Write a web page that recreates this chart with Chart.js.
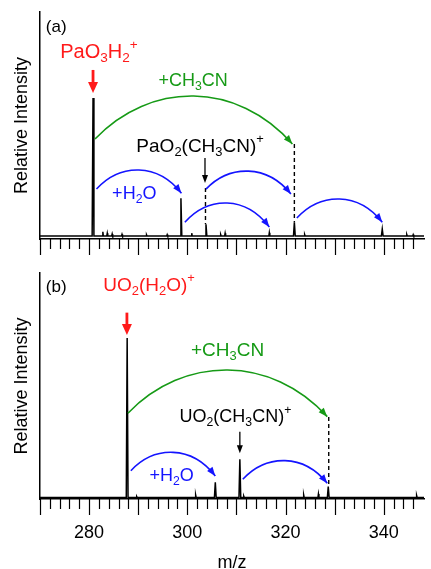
<!DOCTYPE html>
<html>
<head>
<meta charset="utf-8">
<script src="https://cdn.jsdelivr.net/npm/chart.js@4.4.0/dist/chart.umd.min.js"></script>
<style>
  html, body { margin: 0; padding: 0; background: #fff; }
  #wrapA { position: absolute; left: 0; top: 0; width: 431px; height: 262px; }
  #wrapB { position: absolute; left: 0; top: 262px; width: 431px; height: 307px; }
</style>
</head>
<body>
<div id="wrapA"><canvas id="chartA"></canvas></div>
<div id="wrapB"><canvas id="chartB"></canvas></div>
<script>
const FONT = '"Liberation Sans", Arial, Helvetica, sans-serif';

// panel (a): peak m/z and relative intensity (main peak = 100)
const mzA  = [280.8, 282.8, 283.7, 284.7, 286.7, 291.7, 295.9, 298.7, 300.9, 303.8, 306.8, 307.7, 316.7, 321.8, 323.9, 339.7, 344.7, 346.0];
const intA = [100,   3,     2,     1.5,   1.2,   0.8,   1,     27.3,  2,     8.5,   1,     2,     2.4,   9.9,   1,     5.1,   1,     1];

// panel (b)
const mzB  = [287.75, 289.7, 301.7, 305.7, 310.7, 311.5, 323.7, 326.7, 328.7, 346.7];
const intB = [100,    0.6,   1.5,   9.5,   24,    0.8,   1.5,   2.2,   6.8,   1.2];

const xLabelTicks = [280, 300, 320, 340];
const xMin = 270, xMax = 348.2;

const BLUE = '#1414ff', GREEN = '#169a16', RED = '#ff1a1a', BLACK = '#000';

// annotation layout, in data units of each panel
const notesA = {
  texts: [
    {s: '(a)', x: 273.3, y: 148, size: 17, color: BLACK},
    {s: 'PaO_3H_2^+', x: 282, y: 129, size: 20, color: RED},
    {s: '+CH_3CN', x: 301.2, y: 108.7, size: 18, color: GREEN},
    {s: 'PaO_2(CH_3CN)^+', x: 302.6, y: 61, size: 19, color: BLACK},
    {s: '+H_2O', x: 289.2, y: 26.8, size: 18, color: BLUE}
  ],
  arrows: [
    {x: 280.8, y0: 120.3, y1: 103.6, color: RED, lw: 2.8, hl: 11, hw: 5},
    {x: 303.6, y0: 56.5, y1: 38.4, color: BLACK, lw: 1.3, hl: 8, hw: 3}
  ],
  dashes: [
    {x: 321.8, y0: 66.7, y1: 10},
    {x: 303.7, y0: 34.8, y1: 8.5}
  ],
  arcs: [
    {x0: 281.2, y0: 70.3, x1: 321.4, y1: 66.7, top: 101.4, color: GREEN},
    {x0: 281.5, y0: 34, x1: 298.8, y1: 31, top: 47.8, color: BLUE},
    {x0: 303.8, y0: 34, x1: 321.1, y1: 30.4, top: 47, color: BLUE},
    {x0: 299.5, y0: 10, x1: 316.7, y1: 6.5, top: 23.9, color: BLUE},
    {x0: 322.3, y0: 13, x1: 339.7, y1: 10, top: 26.8, color: BLUE}
  ]
};

const notesB = {
  texts: [
    {s: '(b)', x: 273.3, y: 129, size: 17, color: BLACK},
    {s: 'UO_2(H_2O)^+', x: 292.2, y: 129.7, size: 19, color: RED},
    {s: '+CH_3CN', x: 308.2, y: 88.7, size: 19, color: GREEN},
    {s: 'UO_2(CH_3CN)^+', x: 309.8, y: 47.5, size: 18, color: BLACK},
    {s: '+H_2O', x: 296.8, y: 10.5, size: 18, color: BLUE}
  ],
  arrows: [
    {x: 287.7, y0: 115.9, y1: 101.9, color: RED, lw: 2.8, hl: 11, hw: 5},
    {x: 310.7, y0: 41.3, y1: 27.7, color: BLACK, lw: 1.3, hl: 8, hw: 3}
  ],
  dashes: [
    {x: 328.8, y0: 50.5, y1: 6.8}
  ],
  arcs: [
    {x0: 287.9, y0: 52.8, x1: 328.5, y1: 50.7, top: 79.9, color: GREEN},
    {x0: 288.5, y0: 16.8, x1: 305.7, y1: 13.5, top: 28.3, color: BLUE},
    {x0: 311.3, y0: 11.4, x1: 328.5, y1: 8.9, top: 23.1, color: BLUE}
  ]
};

function spectrum(mz, inten) {
  const pts = [{x: xMin, y: 0}];
  mz.forEach((c, i) => {
    const w = inten[i] > 5 ? 0.18 : 0.1;
    pts.push({x: c - w, y: 0}, {x: c, y: inten[i]}, {x: c + w, y: 0});
  });
  pts.push({x: xMax, y: 0});
  return pts;
}

// '_' = subscript next char, '^' = superscript next char
function richText(ctx, str, x, y, size, color) {
  const segs = [];
  for (let i = 0; i < str.length; i++) {
    const ch = str[i];
    if ((ch === '_' || ch === '^') && i + 1 < str.length) {
      segs.push({t: str[i + 1], m: ch});
      i++;
    } else {
      segs.push({t: ch, m: ''});
    }
  }
  const small = size * 0.68;
  let total = 0;
  segs.forEach(s => {
    ctx.font = (s.m ? small : size) + 'px ' + FONT;
    s.w = ctx.measureText(s.t).width;
    total += s.w;
  });
  let cx = x - total / 2;
  ctx.fillStyle = color;
  ctx.textBaseline = 'alphabetic';
  ctx.textAlign = 'left';
  segs.forEach(s => {
    ctx.font = (s.m ? small : size) + 'px ' + FONT;
    let dy = 0;
    if (s.m === '_') dy = size * 0.22;
    if (s.m === '^') dy = -size * 0.45;
    ctx.fillText(s.t, cx, y + dy);
    cx += s.w;
  });
}

function downArrow(ctx, px, py0, py1, a) {
  ctx.strokeStyle = a.color;
  ctx.fillStyle = a.color;
  ctx.lineWidth = a.lw;
  ctx.beginPath();
  ctx.moveTo(px, py0);
  ctx.lineTo(px, py1 - a.hl + 1);
  ctx.stroke();
  ctx.beginPath();
  ctx.moveTo(px, py1);
  ctx.lineTo(px - a.hw, py1 - a.hl);
  ctx.lineTo(px + a.hw, py1 - a.hl);
  ctx.closePath();
  ctx.fill();
}

function curvedArrow(ctx, x0, y0, x3, y3, apex, color) {
  const k = 0.28, dx = x3 - x0;
  const yc = (apex - 0.125 * (y0 + y3)) / 0.75;
  const c1x = x0 + k * dx, c2x = x3 - k * dx;
  ctx.strokeStyle = color;
  ctx.lineWidth = 1.6;
  ctx.beginPath();
  ctx.moveTo(x0, y0);
  ctx.bezierCurveTo(c1x, yc, c2x, yc, x3, y3);
  ctx.stroke();
  const ang = Math.atan2(y3 - yc, x3 - c2x);
  const hl = 9, hw = 3.4;
  const cs = Math.cos(ang), sn = Math.sin(ang);
  ctx.fillStyle = color;
  ctx.beginPath();
  ctx.moveTo(x3, y3);
  ctx.lineTo(x3 - cs * hl - sn * hw, y3 - sn * hl + cs * hw);
  ctx.lineTo(x3 - cs * hl + sn * hw, y3 - sn * hl - cs * hw);
  ctx.closePath();
  ctx.fill();
}

function notesPlugin(notes) {
  return {
    id: 'notes',
    afterDraw(chart) {
      const {ctx, scales: {x, y}} = chart;
      const X = v => x.getPixelForValue(v), Y = v => y.getPixelForValue(v);
      ctx.save();
      // x ticks: long every 10, short every 2
      ctx.strokeStyle = BLACK;
      ctx.lineWidth = 1.2;
      x.ticks.forEach(t => {
        const v = t.value;
        if (Math.abs(v - Math.round(v)) > 1e-6) return;
        const len = Math.round(v) % 10 === 0 ? 16 : 10;
        const px = Math.round(X(v)) + 0.5;
        ctx.beginPath();
        ctx.moveTo(px, x.top);
        ctx.lineTo(px, x.top + len);
        ctx.stroke();
      });
      // dashed guides
      ctx.setLineDash([4, 3]);
      ctx.lineWidth = 1.4;
      notes.dashes.forEach(d => {
        ctx.beginPath();
        ctx.moveTo(X(d.x), Y(d.y0));
        ctx.lineTo(X(d.x), Y(d.y1));
        ctx.stroke();
      });
      ctx.setLineDash([]);
      notes.arcs.forEach(a => curvedArrow(ctx, X(a.x0), Y(a.y0), X(a.x1), Y(a.y1), Y(a.top), a.color));
      notes.arrows.forEach(a => downArrow(ctx, X(a.x), Y(a.y0), Y(a.y1), a));
      notes.texts.forEach(t => richText(ctx, t.s, X(t.x), Y(t.y), t.size, t.color));
      ctx.restore();
    }
  };
}

function makeChart(id, mz, inten, yMin, yMax, notes, bottom) {
  return new Chart(document.getElementById(id), {
    type: 'scatter',
    data: {
      datasets: [{
        data: spectrum(mz, inten),
        showLine: true,
        borderColor: BLACK,
        borderWidth: 1.5,
        pointRadius: 0,
        tension: 0
      }]
    },
    options: {
      responsive: true,
      maintainAspectRatio: false,
      animation: false,
      layout: {padding: {top: bottom ? 11 : 12, right: 0, left: 0, bottom: 0}},
      plugins: {legend: {display: false}, tooltip: {enabled: false}},
      scales: {
        x: {
          type: 'linear',
          min: xMin,
          max: xMax,
          ticks: {
            stepSize: 2,
            autoSkip: false,
            maxRotation: 0,
            padding: 7,
            color: BLACK,
            font: {family: FONT, size: 18},
            callback: v => (bottom && xLabelTicks.includes(Math.round(v)) && Math.abs(v - Math.round(v)) < 1e-6) ? String(Math.round(v)) : ''
          },
          grid: {display: true, drawOnChartArea: false, tickLength: 16, tickColor: 'rgba(0,0,0,0)'},
          border: {display: true, color: BLACK, width: 1.5},
          title: {display: bottom, text: 'm/z', color: BLACK, font: {family: FONT, size: 18}, padding: {top: 0, bottom: -5}},
          afterFit: s => { s.height = bottom ? 70 : 23; }
        },
        y: {
          min: yMin,
          max: yMax,
          ticks: {display: false},
          grid: {display: false},
          border: {display: true, color: BLACK, width: 1.5},
          title: {display: true, text: 'Relative Intensity', color: BLACK, font: {family: FONT, size: 18}, padding: {top: 11, bottom: 0}},
          afterFit: s => { s.width = 40; }
        }
      }
    },
    plugins: [notesPlugin(notes)]
  });
}

makeChart('chartA', mzA, intA, -2.17, 162.3, notesA, false);
makeChart('chartB', mzB, intB, -0.94, 140.75, notesB, true);
</script>
</body>
</html>
